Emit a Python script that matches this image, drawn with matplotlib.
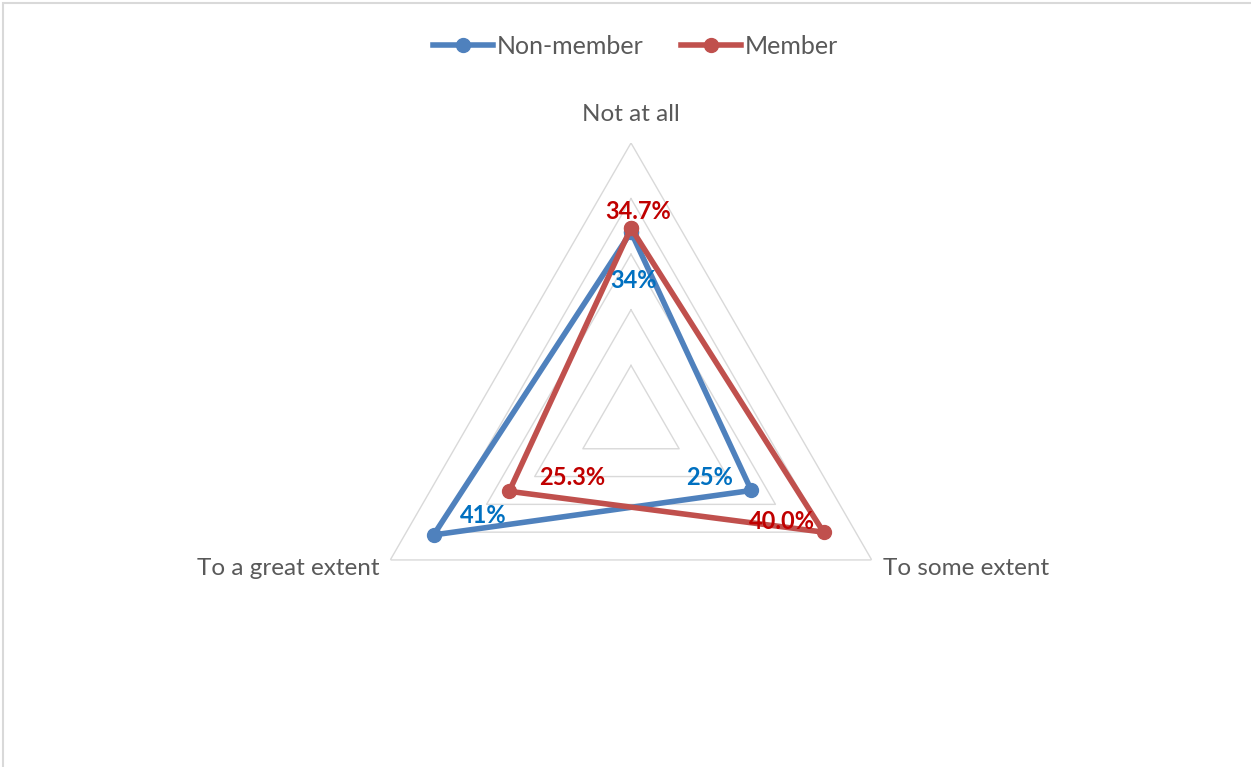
import numpy as np
import matplotlib
matplotlib.use("Agg")
from matplotlib import pyplot as plt
from matplotlib.patches import Rectangle

# data
categories = ["Not at all", "To some extent", "To a great extent"]
non_member = [0.34, 0.25, 0.41]
member = [0.347, 0.400, 0.253]
non_member_labels = ["34%", "25%", "41%"]
member_labels = ["34.7%", "40.0%", "25.3%"]
rings = [0.1, 0.2, 0.3, 0.4, 0.5]

blue = "#4F81BD"
red = "#C0504D"
blue_txt = "#0070C0"
red_txt = "#C00000"
grid_col = "#D9D9D9"
txt_col = "#595959"

plt.rcParams["font.family"] = ["Lato", "DejaVu Sans"]

fig = plt.figure(figsize=(12.51, 7.67), dpi=100)
fig.patches.append(Rectangle((3 / 1251, -0.05), 1.1, (767 - 3) / 767 + 0.05,
                             transform=fig.transFigure, fill=False,
                             edgecolor=grid_col, lw=1.5))

ax = fig.add_axes([0.2822, 0.0887, 0.4444, 0.7249], projection="polar")
ax.set_theta_offset(np.pi / 2)
ax.set_theta_direction(-1)
ax.set_ylim(0, 0.5)
ax.axis("off")

angles = np.deg2rad([0, 120, 240])
closed = np.append(angles, angles[0])

# gridlines
for r in rings:
    ax.plot(closed, [r] * 4, color=grid_col, lw=1, zorder=1)

# series
ax.plot(closed, non_member + non_member[:1], color=blue, lw=4, marker="o",
        ms=10, label="Non-member", zorder=3, solid_joinstyle="round")
ax.plot(closed, member + member[:1], color=red, lw=4, marker="o",
        ms=10, label="Member", zorder=4, solid_joinstyle="round")

# data labels (offsets in points)
nm_off = [(1.5, -35), (-30, 9), (36, 14)]
m_off = [(5, 12), (-30, 8), (45, 10)]
for a, v, t, o in zip(angles, non_member, non_member_labels, nm_off):
    ax.annotate(t, (a, v), xytext=o, textcoords="offset points", ha="center",
                va="center", color=blue_txt, fontsize=17, fontweight="bold", zorder=5)
for a, v, t, o in zip(angles, member, member_labels, m_off):
    ax.annotate(t, (a, v), xytext=o, textcoords="offset points", ha="center",
                va="center", color=red_txt, fontsize=17, fontweight="bold", zorder=5)

# category labels
ax.annotate(categories[0], (angles[0], 0.5), xytext=(0, 20.5), textcoords="offset points",
            ha="center", va="center", color=txt_col, fontsize=17.5)
ax.annotate(categories[1], (angles[1], 0.5), xytext=(8, -6.5), textcoords="offset points",
            ha="left", va="center", color=txt_col, fontsize=17.5)
ax.annotate(categories[2], (angles[2], 0.5), xytext=(-8, -6.5), textcoords="offset points",
            ha="right", va="center", color=txt_col, fontsize=17.5)

leg = fig.legend(loc="center", bbox_to_anchor=(0.508, 0.94), ncol=2, frameon=False,
                 fontsize=18, handlelength=2.4, columnspacing=1.5, handletextpad=0.15)
for t in leg.get_texts():
    t.set_color(txt_col)

fig.savefig("out.png", dpi=100)
